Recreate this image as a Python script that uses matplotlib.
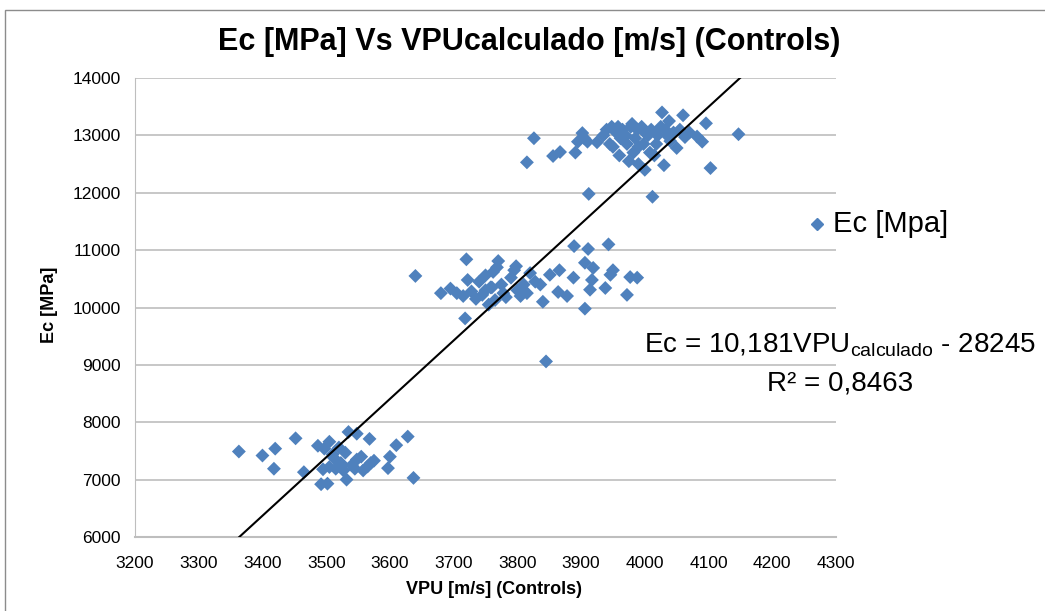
import numpy as np
import matplotlib
matplotlib.use("Agg")
import matplotlib.pyplot as plt
from matplotlib.patches import Rectangle
from matplotlib.lines import Line2D

plt.rcParams['font.family'] = ['Liberation Sans', 'DejaVu Sans']

title = "Ec [MPa] Vs VPUcalculado [m/s] (Controls)"
x_label = "VPU [m/s] (Controls)"
y_label = "Ec [MPa]"
series_name = "Ec [Mpa]"

# cluster 1
vpu_1 = [3363, 3400, 3420, 3418, 3452, 3465, 3487, 3497, 3505, 3495, 3505, 3492, 3502,
         3535, 3548, 3568, 3520, 3530, 3512, 3523, 3548, 3515, 3527, 3545, 3558, 3570,
         3532, 3600, 3610, 3628, 3597, 3637, 3540, 3525, 3555, 3575, 3565, 3510]
ec_1 = [7490, 7420, 7540, 7190, 7720, 7130, 7590, 7540, 7660, 7180, 7220, 6920, 6930,
        7830, 7800, 7710, 7560, 7470, 7380, 7290, 7350, 7190, 7160, 7190, 7160, 7290,
        7000, 7400, 7600, 7750, 7200, 7030, 7250, 7240, 7400, 7330, 7230, 7440]
# cluster 2
vpu_2 = [3640, 3680, 3695, 3705, 3715, 3720, 3722, 3718, 3728, 3735, 3740, 3745, 3750,
         3755, 3758, 3762, 3765, 3768, 3770, 3775, 3778, 3782, 3790, 3795, 3798, 3800,
         3805, 3810, 3815, 3820, 3828, 3836, 3840, 3845, 3851, 3866, 3864, 3878, 3889,
         3888, 3906, 3906, 3911, 3919, 3917, 3914, 3938, 3943, 3950, 3946, 3977, 3988,
         3972, 3809, 3760, 3750]
ec_2 = [10550, 10250, 10330, 10250, 10200, 10840, 10480, 9810, 10280, 10150, 10450, 10220, 10560,
        10050, 10350, 10620, 10130, 10700, 10810, 10400, 10250, 10180, 10520, 10650, 10720, 10300,
        10200, 10400, 10250, 10600, 10450, 10400, 10100, 9060, 10570, 10650, 10270, 10200, 11070,
        10520, 10780, 9980, 11020, 10690, 10480, 10310, 10340, 11100, 10650, 10570, 10530, 10520,
        10220, 10270, 10350, 10300]
# cluster 3
vpu_3 = [3826, 3815, 3856, 3867, 3891, 3895, 3902, 3905, 3910, 3912, 3925, 3935, 3940,
         3945, 3948, 3950, 3955, 3958, 3962, 3965, 3970, 3972, 3975, 3978, 3980, 3982,
         3985, 3988, 3990, 3995, 3998, 4000, 4005, 4008, 4010, 4012, 4015, 4018, 4020,
         4025, 4027, 4030, 4032, 4035, 4038, 4040, 4045, 4050, 4055, 4060, 4063, 4070,
         4082, 4090, 4096, 4103, 4147, 3960, 3990, 4000]
ec_3 = [12950, 12530, 12640, 12710, 12700, 12890, 13040, 12950, 12890, 11980, 12880, 13000, 13100,
        12850, 13150, 12800, 13050, 13150, 12950, 13100, 13000, 12850, 12550, 13150, 13200, 12700,
        12950, 13100, 12500, 13150, 12850, 12400, 13000, 12700, 13100, 11930, 12650, 12850, 13000,
        13150, 13400, 12480, 13100, 13000, 13250, 12900, 13050, 12780, 13100, 13350, 12970, 13050,
        12980, 12890, 13210, 12430, 13020, 12650, 12800, 13050]

vpu = vpu_1 + vpu_2 + vpu_3
ec = ec_1 + ec_2 + ec_3

slope = 10.181
intercept = -28245
x_ticks = list(range(3200, 4301, 100))
y_ticks = list(range(6000, 14001, 1000))

W, H = 1045, 611
fig = plt.figure(figsize=(W / 100, H / 100), dpi=100)
# chart border
fig.patches.append(Rectangle((5 / W, -0.05), 1.2, 1 - 10 / H + 0.05, transform=fig.transFigure,
                             fill=False, edgecolor='#8C8C8C', linewidth=1.0))

ax = fig.add_axes([135 / W, 1 - 537 / H, (836 - 135) / W, (537 - 78) / H])
color = '#4F81BD'
ax.scatter(vpu, ec, marker='D', s=50, color=color, edgecolors='none', zorder=3)

xl = np.array([(y_ticks[0] - intercept) / slope, (y_ticks[-1] - intercept) / slope])
ax.plot(xl, slope * xl + intercept, color='black', linewidth=1.5, zorder=4)

ax.set_xlim(x_ticks[0], x_ticks[-1])
ax.set_ylim(y_ticks[0], y_ticks[-1])
ax.set_xticks(x_ticks)
ax.set_yticks(y_ticks)
ax.tick_params(length=0, labelsize=12.5, colors='black')
ax.tick_params(axis='x', pad=14)
ax.tick_params(axis='y', pad=10)
ax.grid(axis='y', color='#BEBEBE', linewidth=1.2)
ax.set_axisbelow(True)
for s in ['top', 'right']:
    ax.spines[s].set_visible(False)
ax.spines['left'].set_color('#BEBEBE')
ax.spines['bottom'].set_color('#BEBEBE')
ax.spines['bottom'].set_linewidth(1.5)

fig.text(529 / W, 1 - 42 / H, title, ha='center', va='center', fontsize=22, fontweight='bold')
fig.text(494 / W, 1 - 590 / H, x_label, ha='center', va='center', fontsize=13, fontweight='bold')
fig.text(50 / W, 1 - 305 / H, y_label, ha='center', va='center', rotation=90, fontsize=13, fontweight='bold')

# legend
fig.lines.append(Line2D([817 / W], [1 - 224 / H], marker='D', markersize=6.5, color=color,
                        linestyle='none', transform=fig.transFigure))
fig.text(833 / W, 1 - 224 / H, series_name, ha='left', va='center', fontsize=21)

# equation
fig.text(840 / W, 1 - 345 / H,
         r"Ec = 10,181VPU$_{\mathregular{calculado}}$ - 28245", ha='center', va='center', fontsize=20)
fig.text(840 / W, 1 - 384 / H, "R² = 0,8463", ha='center', va='center', fontsize=20)

fig.savefig("out.png", dpi=100)
